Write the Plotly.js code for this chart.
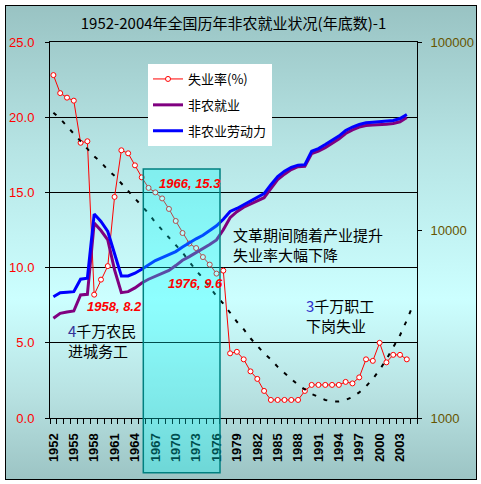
<!DOCTYPE html>
<html>
<head>
<meta charset="utf-8">
<script src="https://cdn.plot.ly/plotly-3.0.1.min.js"></script>
<style>
  html, body { margin: 0; padding: 0; background: #ffffff; }
  #wrap { position: relative; width: 481px; height: 484px; }
  #bg { position: absolute; left: 5px; top: 5px; width: 470px; height: 473px;
        border: 1px solid #000;
        background: linear-gradient(to bottom, #99c3c3 0%, #b6e4e4 30%, #ccffff 62%, #b8e2e2 82%, #9cc4c4 100%); }
  #chart { position: absolute; left: 0; top: 0; width: 481px; height: 484px; }
</style>
</head>
<body>
<div id="wrap"><div id="bg"></div><div id="chart"></div></div>
<script>
// ---- data ----
const years = [1952,1953,1954,1955,1956,1957,1958,1959,1960,1961,1962,1963,1964,1965,1966,1967,1968,1969,1970,
  1971,1972,1973,1974,1975,1976,1977,1978,1979,1980,1981,1982,1983,1984,1985,1986,1987,1988,1989,1990,
  1991,1992,1993,1994,1995,1996,1997,1998,1999,2000,2001,2002,2003,2004];

// 失业率 (%) - left axis
const unemploymentRate = [22.8,21.6,21.3,21.1,18.3,18.4,8.2,9.2,10.1,14.7,17.8,17.6,16.8,16.0,15.3,15.0,14.6,13.9,13.1,
  12.3,11.6,11.3,10.7,10.2,9.6,9.8,4.3,4.4,3.9,3.1,2.6,1.8,1.2,1.2,1.2,1.2,1.2,1.8,2.2,
  2.2,2.2,2.2,2.2,2.4,2.3,2.7,3.9,3.8,5.0,3.7,4.2,4.2,3.9];

// 非农就业 (万人) - right log axis
const nonAgEmployment = [3390,3605,3663,3708,4512,4551,10885,9938,8866,6134,4642,4699,4918,5229,5471,5684,5884,6097,6467,
  6902,7215,7560,7920,8370,8856,10025,11620,12510,13215,13710,14225,14850,16590,18525,19820,20950,21730,21810,25490,
  26280,27440,28830,30460,32600,34110,35300,35950,36180,36270,36540,36850,37630,39660];

// 非农业劳动力 (万人) - right log axis
const nonAgLaborForce = [4418,4642,4670,4699,5471,5540,12155,11100,9817,7530,5697,5697,5890,6187,6522,6877,7127,7375,7679,
  8116,8567,8977,9382,9902,10530,11406,12550,13020,13625,14310,14850,15600,17420,19220,20560,21520,22130,22270,26220,
  27110,28480,30100,31600,33820,35300,36400,37170,37440,37630,37910,38230,39180,41150];

// dashed trend of the unemployment rate
const trendYears = [1952,1953,1954,1955,1956,1957,1958,1959,1960,1961,1962,1963,1964,1965,1966,1967,1968,1969,1970,
  1971,1972,1973,1974,1975,1976,1977,1978,1979,1980,1981,1982,1983,1984,1985,1986,1987,1988,1989,1990,
  1991,1992,1993,1994,1995,1996,1997,1998,1999,2000,2001,2002,2003,2004,2005];
const trendRate = [20.3,19.9,19.4,18.9,18.4,17.9,17.4,17.0,16.5,16.1,15.6,15.1,14.6,14.1,13.6,13.0,12.5,12.0,11.5,
  11.0,10.4,9.8,9.3,8.7,8.1,7.6,7.0,6.4,5.9,5.3,4.8,4.3,3.9,3.4,3.0,2.6,2.2,1.9,1.6,
  1.4,1.2,1.1,1.1,1.2,1.4,1.7,2.1,2.6,3.2,3.9,4.7,5.5,6.5,7.6];

const xTickYears = [1952,1955,1958,1961,1964,1967,1970,1973,1976,1979,1982,1985,1988,1991,1994,1997,2000,2003];
const xTickText = xTickYears.map(String);
const leftTicks = [0,5,10,15,20,25];
const rightTicks = [1000,10000,100000];
const rightTickText = ['1000','10000','100000'];

const seriesNames = ['失业率(%)','非农就业','非农业劳动力'];
const titleText = '1952-2004年全国历年非农就业状况(年底数)-1';

// ---- chart ----
const W = 481, H = 484, L = 50, R = 64, T = 42, B = 66;
const pw = W - L - R, ph = H - T - B;
const px = v => (v - L) / pw;
const py = v => (H - B - v) / ph;

const cjk = '"Noto Sans CJK SC", "Noto Sans", sans-serif';
const latin = '"Liberation Sans", Arial, sans-serif';

const traces = [
  { x: years, y: unemploymentRate, name: seriesNames[0], type: 'scatter', mode: 'lines+markers',
    yaxis: 'y', legendgroup: 'a', legendrank: 1,
    line: { color: '#ff0000', width: 1 },
    marker: { symbol: 'circle', size: 5, color: '#ffffff', line: { color: '#ff0000', width: 1 } } },
  { x: trendYears, y: trendRate, name: 'trend', type: 'scatter', mode: 'lines', yaxis: 'y',
    showlegend: false, line: { color: '#000000', width: 2, dash: '4px,8px' } },
  { x: years, y: nonAgEmployment, name: seriesNames[1], type: 'scatter', mode: 'lines',
    yaxis: 'y2', legendgroup: 'b', legendrank: 2,
    line: { color: '#800080', width: 3 } },
  { x: years, y: nonAgLaborForce, name: seriesNames[2], type: 'scatter', mode: 'lines',
    yaxis: 'y2', legendgroup: 'c', legendrank: 3,
    line: { color: '#0000ff', width: 3 } }
];

function note(text, x, y, opts) {
  return Object.assign({ text: text, xref: 'paper', yref: 'paper', x: px(x), y: py(y),
    xanchor: 'left', yanchor: 'middle', align: 'left', showarrow: false,
    font: { family: cjk, size: 15, color: '#000000' } }, opts || {});
}
const redFont = { family: latin, size: 13, color: '#ff0000', weight: 'bold', style: 'italic' };

const layout = {
  width: W, height: H,
  margin: { l: L, r: R, t: T, b: B, pad: 0 },
  paper_bgcolor: 'rgba(0,0,0,0)', plot_bgcolor: 'rgba(0,0,0,0)',
  title: { text: titleText, font: { family: cjk, size: 15, color: '#000000' },
           xref: 'paper', x: 0.5, xanchor: 'center', yref: 'container', y: 1 - 24 / H, yanchor: 'middle' },
  showlegend: true,
  legend: { x: px(148), y: py(64), xanchor: 'left', yanchor: 'top', bgcolor: '#ffffff',
            borderwidth: 0, traceorder: 'grouped', tracegroupgap: 6,
            font: { family: cjk, size: 13, color: '#000000' } },
  xaxis: { type: 'linear', range: [1951.5, 2005.5], tickmode: 'array', tickvals: xTickYears, ticktext: xTickText,
           tickangle: -90, ticks: '', ticklabelstandoff: 9,
           tickfont: { family: latin, size: 13, color: '#000000', weight: 'bold' },
           minor: { ticks: 'outside', ticklen: 5, tickcolor: '#000000', tick0: 1951.5, dtick: 1, showgrid: false },
           showline: true, linecolor: '#000000', linewidth: 1, mirror: true,
           showgrid: false, zeroline: false, fixedrange: true },
  yaxis: { range: [0, 25], tickmode: 'array', tickvals: leftTicks, tickformat: '.1f',
           ticks: 'outside', ticklen: 4, tickcolor: '#000000', ticklabelstandoff: 8,
           tickfont: { family: latin, size: 13, color: '#ff0000' },
           showline: true, linecolor: '#000000', linewidth: 1,
           showgrid: true, gridcolor: '#000000', gridwidth: 1, zeroline: false },
  yaxis2: { type: 'log', range: [3, 5], overlaying: 'y', side: 'right', tickmode: 'array',
            tickvals: rightTicks, ticktext: rightTickText,
            ticks: 'outside', ticklen: 4, tickcolor: '#000000', ticklabelstandoff: 6,
            tickfont: { family: latin, size: 13, color: '#665500' },
            showline: true, linecolor: '#000000', linewidth: 1, showgrid: false, zeroline: false },
  shapes: [
    { type: 'rect', layer: 'above', xref: 'paper', yref: 'paper',
      x0: px(143.3), x1: px(220), y0: py(472.7), y1: py(169),
      fillcolor: 'rgba(0,255,255,0.3)', line: { color: '#008080', width: 1.5 } }
  ],
  annotations: [
    note('1966, 15.3', 157, 183, { font: redFont }),
    note('1976, 9.6', 166, 283, { font: redFont }),
    note('1958, 8.2', 85, 306.7, { font: redFont }),
    note('<span style="color:#333399">4</span>千万农民<br>进城务工', 66, 340),
    note('文革期间随着产业提升<br>失业率大幅下降', 231, 244),
    note('<span style="color:#3333cc">3</span>千万职工<br>下岗失业', 304, 315.5)
  ]
};

Plotly.newPlot('chart', traces, layout, { displayModeBar: false, staticPlot: true });
</script>
</body>
</html>
